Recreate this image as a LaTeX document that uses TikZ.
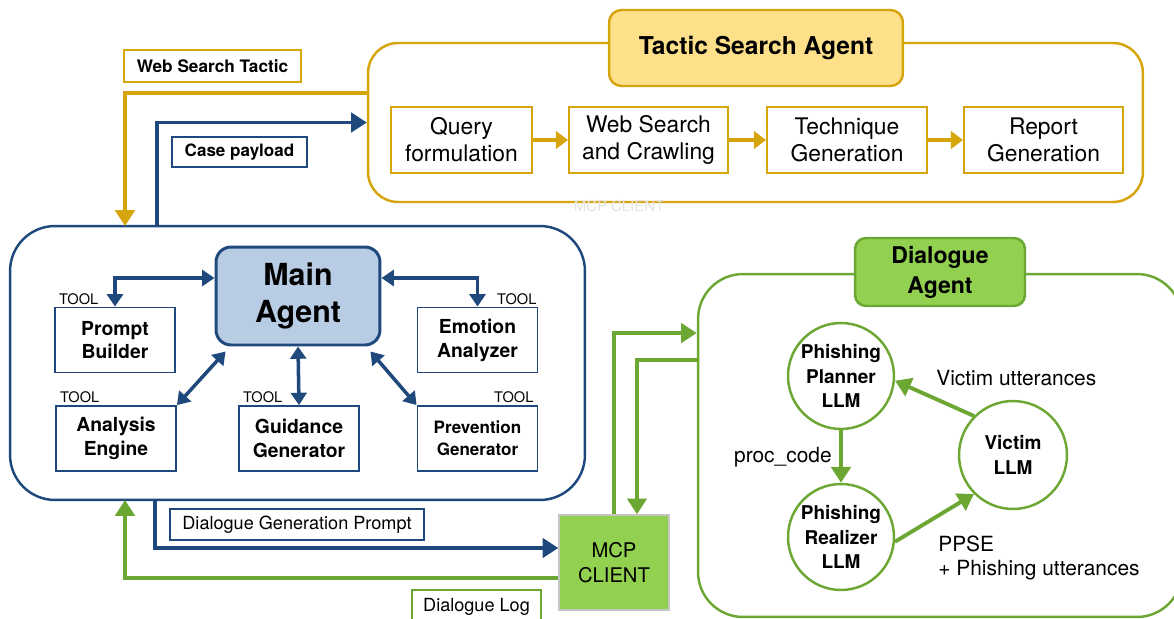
\documentclass[tikz,border=0pt]{standalone}
\usepackage{fontspec}
\setmainfont{TeX Gyre Heros}
\usepackage{xcolor}
\usetikzlibrary{arrows.meta}
\definecolor{agentblue}{HTML}{1F497D}
\definecolor{mainfill}{HTML}{B8CCE4}
\definecolor{tacgold}{HTML}{D6A40B}
\definecolor{tacfill}{HTML}{FFE08A}
\definecolor{dlggreen}{HTML}{6CA734}
\definecolor{mcpgreen}{HTML}{92D050}
\tikzset{
  tacbox/.style={draw=tacgold, line width=1.1pt, fill=white, minimum width=2.82cm, minimum height=1.32cm, inner sep=1pt, align=center, font=\fontsize{13}{15.3}\selectfont},
  toolbox/.style={draw=agentblue, line width=1.1pt, fill=white, minimum width=2.4cm, minimum height=1.3cm, inner sep=1pt, align=center, font=\fontsize{11}{13.6}\selectfont\bfseries},
  toollbl/.style={inner sep=1pt, font=\fontsize{8.3}{10}\selectfont},
  llmnode/.style={circle, draw=dlggreen, line width=1.4pt, fill=white, minimum size=2.12cm, inner sep=0pt, align=center, font=\fontsize{10.8}{13.9}\selectfont\bfseries},
  flowlbl/.style={line width=1.5pt, fill=white, inner sep=0pt, font=\fontsize{10.3}{12}\selectfont},
  edgelbl/.style={inner sep=0pt, font=\fontsize{11.9}{13.6}\selectfont},
  bluearrow/.style={draw=agentblue, line width=2.2pt, -{Triangle[length=9pt,width=11pt]}},
  goldarrow/.style={draw=tacgold, line width=2.2pt, -{Triangle[length=9pt,width=11pt]}},
  greenarrow/.style={draw=dlggreen, line width=2.2pt, -{Triangle[length=9pt,width=11pt]}},
  toolarrow/.style={draw=agentblue, line width=2pt, {Triangle[length=7pt,width=9pt]}-{Triangle[length=7pt,width=9pt]}}
}
\begin{document}
\begin{tikzpicture}[x=0.02cm,y=-0.02cm]
\useasboundingbox (0,0) rectangle (1174,619);
\node[draw=tacgold, line width=1.4pt, rounded corners=0.6cm, minimum width=15.5cm, minimum height=3.18cm] (tsa) at (755.5,122.5) {};
\node[draw=tacgold, line width=1.4pt, fill=tacfill, rounded corners=0.25cm, minimum width=5.88cm, minimum height=1.52cm, font=\fontsize{14}{16}\selectfont\bfseries] (tsatitle) at (756,48) {Tactic Search Agent};
\node[tacbox] (qf) at (461.5,140) {Query\\formulation};
\node[tacbox, minimum width=3.18cm] (wsc) at (648.5,140) {Web Search\\and Crawling};
\node[tacbox, minimum width=3.2cm] (tg) at (847,140) {Technique\\Generation};
\node[tacbox, minimum width=3.18cm] (rg) at (1043.5,140) {Report\\Generation};
\draw[draw=tacgold, line width=2.6pt, -{Triangle[length=7pt,width=10pt]}] (qf) -- (wsc);
\draw[draw=tacgold, line width=2.6pt, -{Triangle[length=7pt,width=10pt]}] (wsc) -- (tg);
\draw[draw=tacgold, line width=2.6pt, -{Triangle[length=7pt,width=10pt]}] (tg) -- (rg);
\node[text=gray!22, inner sep=0pt, font=\fontsize{8.5}{10}\selectfont] (ghost) at (619,206) {MCP CLIENT};

\node[draw=agentblue, line width=1.4pt, rounded corners=0.9cm, minimum width=11.5cm, minimum height=5.48cm] (mab) at (297.5,363) {};
\node[draw=agentblue, line width=1.7pt, fill=mainfill, rounded corners=0.3cm, minimum width=3.28cm, minimum height=1.96cm, align=center, font=\fontsize{17.3}{21}\selectfont\bfseries] (ma) at (298,296) {Main\\Agent};
\node[toolbox] (pb) at (115,340) {Prompt\\Builder};
\node[toolbox] (ea) at (477.5,340) {Emotion\\Analyzer};
\node[toolbox] (ae) at (116,438.5) {Analysis\\Engine};
\node[toolbox] (gg) at (299,438.5) {Guidance\\Generator};
\node[toolbox, font=\fontsize{9.7}{12.5}\selectfont\bfseries] (pg) at (477.5,438.5) {Prevention\\Generator};
\node[toollbl, anchor=south west] (pbtool) at ([xshift=0.06cm]pb.north west) {TOOL};
\node[toollbl, anchor=south east] (eatool) at (ea.north east) {TOOL};
\node[toollbl, anchor=south west] (aetool) at ([xshift=0.06cm]ae.north west) {TOOL};
\node[toollbl, anchor=south west] (ggtool) at ([xshift=0.06cm]gg.north west) {TOOL};
\node[toollbl, anchor=south east] (pgtool) at ([xshift=-0.06cm]pg.north east) {TOOL};
\draw[toolarrow] ([yshift=0.36cm]ma.west) -| (pb.north);
\draw[toolarrow] ([yshift=0.36cm]ma.east) -| (ea.north);
\draw[toolarrow] ([shift={(0.22cm,-0.1cm)}]ma.south west) -- (ae.north east);
\draw[toolarrow] (ma.south) -- (gg.north);
\draw[toolarrow] ([shift={(-0.22cm,-0.1cm)}]ma.south east) -- (pg.north west);

\coordinate (wsout) at (368,93);
\coordinate (wsin) at (125,226);
\coordinate (cpout) at (157,226);
\coordinate (dgpout) at (155,500);
\coordinate (dlin) at (125,500);
\draw[goldarrow] (wsout) -| (wsin);
\draw[bluearrow] (cpout) |- (tsa.west);
\node[flowlbl, draw=tacgold, minimum width=3.54cm, minimum height=0.64cm, font=\fontsize{9.8}{11}\selectfont\bfseries] (wstlbl) at (212.5,66) {Web Search Tactic};
\node[flowlbl, draw=agentblue, minimum width=2.7cm, minimum height=0.6cm, font=\fontsize{9.7}{11}\selectfont\bfseries] (cplbl) at (239.5,152) {Case payload};

\node[draw=gray!45, line width=0.8pt, fill=mcpgreen, minimum width=2.2cm, minimum height=1.9cm, align=center, font=\fontsize{11.5}{14}\selectfont] (mcp) at (614,562.5) {MCP\\CLIENT};
\draw[bluearrow] (dgpout) |- ([yshift=0.29cm]mcp.west);
\draw[greenarrow] ([yshift=-0.31cm]mcp.west) -| (dlin);
\node[flowlbl, draw=agentblue, minimum width=5.08cm, minimum height=0.62cm] (dgplbl) at (297,524.5) {Dialogue Generation Prompt};
\node[flowlbl, draw=dlggreen, minimum width=2.58cm, minimum height=0.68cm, font=\fontsize{10.3}{12}\selectfont] (dllbl) at (476.5,607) {Dialogue Log};

\node[draw=dlggreen, line width=1.4pt, rounded corners=0.9cm, minimum width=9.68cm, minimum height=6.86cm] (da) at (940,445.5) {};
\node[draw=dlggreen, line width=1.4pt, fill=mcpgreen, rounded corners=0.22cm, minimum width=3.4cm, minimum height=1.36cm, align=center, font=\fontsize{13.1}{17}\selectfont\bfseries] (datitle) at (940,272) {Dialogue\\Agent};
\draw[greenarrow] (mcp.north) |- ([yshift=2.25cm]da.west);
\draw[greenarrow] ([yshift=1.71cm]da.west) -| ([xshift=0.46cm]mcp.north);

\node[llmnode] (pp) at (841,376) {Phishing\\Planner\\LLM};
\node[llmnode] (pr) at (841,537) {Phishing\\Realizer\\LLM};
\node[llmnode, minimum size=2.16cm] (vl) at (1013,455) {Victim\\LLM};
\draw[greenarrow] (pp.south) -- (pr.north);
\draw[greenarrow] (vl.135) -- (pp.-5);
\draw[greenarrow] (pr.-5) -- (vl.225);
\node[edgelbl, anchor=east] (pclbl) at (832,457) {proc\_code};
\node[edgelbl, anchor=west] (vulbl) at (936,378) {Victim utterances};
\node[edgelbl, anchor=west, align=left] (pulbl) at (938,558) {PPSE\\+ Phishing utterances};
\end{tikzpicture}
\end{document}
